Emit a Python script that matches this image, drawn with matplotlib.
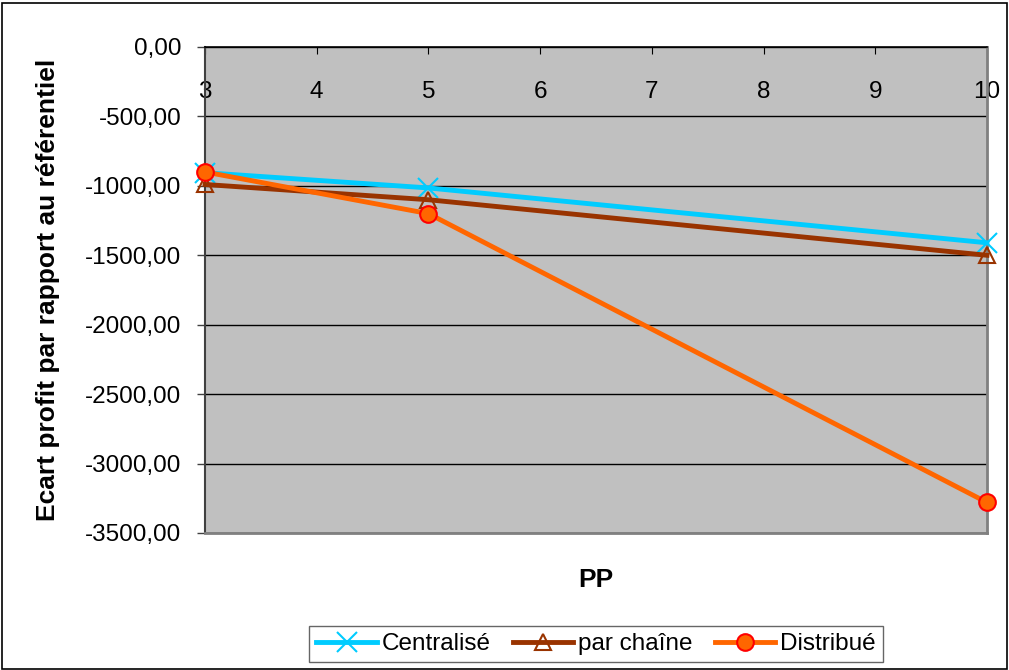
import numpy as np
import matplotlib.pyplot as plt
from matplotlib.patches import Rectangle
from matplotlib.ticker import FuncFormatter

plt.rcParams['font.family'] = ['Liberation Sans', 'DejaVu Sans']

# data
pp = [3, 5, 10]
centralise = [-905, -1015, -1410]
par_chaine = [-990, -1100, -1500]
distribue = [-900, -1200, -3280]

fig = plt.figure(figsize=(10.09, 6.70), dpi=100)
ax = fig.add_axes([205 / 1009, 1 - 533 / 670, (987 - 205) / 1009, (533 - 47) / 670])
ax.set_facecolor('#C0C0C0')

ax.plot(pp, centralise, color='#00CCFF', lw=3.5, marker='x', ms=14, mew=1.5,
        mec='#00CCFF', label='Centralisé', clip_on=False, zorder=3)
ax.plot(pp, par_chaine, color='#993300', lw=3.5, marker='^', ms=12, mew=1.5,
        mfc='none', mec='#993300', label='par chaîne', clip_on=False, zorder=3)
ax.plot(pp, distribue, color='#FF6600', lw=3.5, marker='o', ms=12, mew=1.5,
        mfc='#FF6600', mec='#FF0000', label='Distribué', clip_on=False, zorder=4)

ax.set_xlim(3, 10)
ax.set_ylim(-3500, 0)
ax.set_xticks(range(3, 11))
ax.set_yticks(np.arange(-3500, 1, 500))
ax.yaxis.set_major_formatter(FuncFormatter(lambda v, p: f"{v:.2f}".replace('.', ',')))
ax.grid(axis='y', color='black', lw=1)
ax.set_axisbelow(True)

ax.tick_params(axis='x', bottom=False, labelbottom=False, top=True, labeltop=True,
               direction='in', length=5, pad=-40, labelsize=17.5)
ax.tick_params(axis='y', direction='out', length=6, width=1, color='#404040',
               labelsize=17.5, pad=11)

for s in ['right', 'bottom']:
    ax.spines[s].set_color('#808080')
    ax.spines[s].set_linewidth(2)
ax.spines['left'].set_color('#404040')
ax.spines['left'].set_linewidth(1.5)
ax.spines['top'].set_color('black')
ax.spines['top'].set_linewidth(1.2)

fig.text(48 / 1009, 1 - 290 / 670, 'Ecart profit par rapport au référentiel',
         fontsize=19, fontweight='bold', rotation=90, ha='center', va='center')
fig.text(596 / 1009, 1 - 580 / 670, 'PP', fontsize=19, fontweight='bold',
         ha='center', va='center')

leg = fig.legend(loc='center', bbox_to_anchor=(596 / 1009, 1 - 644 / 670), ncol=3,
                 fontsize=17.5, frameon=True, fancybox=False, edgecolor='#404040',
                 handlelength=2.5, handletextpad=0.2, columnspacing=0.9,
                 borderpad=0.3, borderaxespad=0)
leg.get_frame().set_linewidth(1)

fig.patches.append(Rectangle((2 / 1009, 0.002), 1 - 4 / 1009, 1 - 4 / 670,
                             transform=fig.transFigure, fill=False,
                             edgecolor='black', lw=1.2))

fig.savefig('out.png', dpi=100)
